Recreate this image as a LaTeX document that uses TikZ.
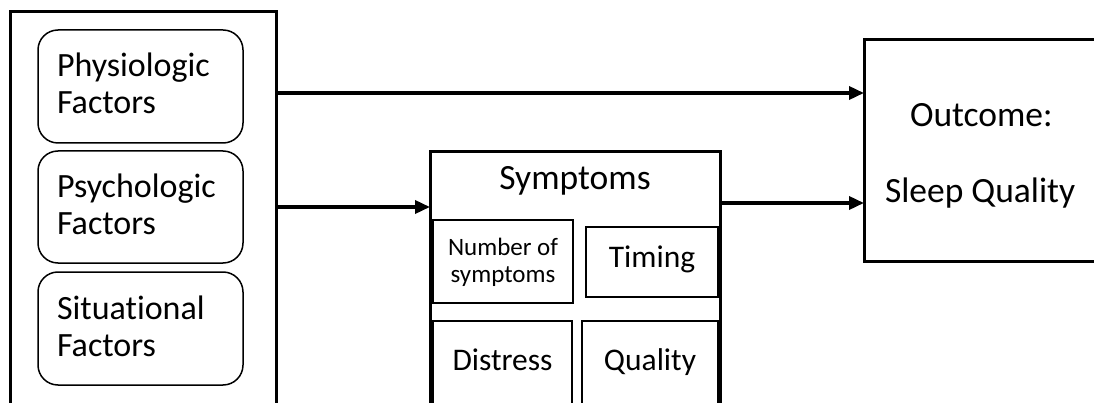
\documentclass[tikz,border=0pt]{standalone}
\usepackage{fontspec}
\setmainfont{Carlito}[Ligatures=NoCommon]
\usetikzlibrary{arrows.meta}
\tikzset{
  box/.style={draw, line width=3pt, inner sep=0pt, outer sep=0pt},
  rbox/.style={draw, line width=1.5pt, rounded corners=20pt, inner sep=0pt, outer sep=0pt},
  ibox/.style={draw, line width=2pt, inner sep=0pt, outer sep=0pt},
  lbl/.style={inner sep=0pt, outer sep=0pt, font=\fontsize{34}{37}\selectfont},
  big/.style={inner sep=0pt, outer sep=0pt, font=\fontsize{35.5}{40}\selectfont},
  mid/.style={inner sep=0pt, outer sep=0pt, font=\fontsize{31.5}{36}\selectfont},
  small/.style={inner sep=0pt, outer sep=0pt, font=\fontsize{25}{28}\selectfont},
  conn/.style={line width=3.5pt, -{Triangle[length=15pt,width=13pt]}}
}
\begin{document}
\begin{tikzpicture}[x=1pt,y=-1pt]
\useasboundingbox (0,0) rectangle (1094,403);
\fill[white] (0,0) rectangle (1094,403);
\clip (0,0) rectangle (1094,403);
% left group
\node[box, minimum width=266pt, minimum height=392pt] (factors) at (143,208) {};
\node[rbox, minimum width=205pt, minimum height=113pt] (phys) at (140.5,86.5) {};
\node[rbox, minimum width=205pt, minimum height=112pt] (psych) at (140.5,207) {};
\node[rbox, minimum width=205pt, minimum height=113pt] (sit) at (140.5,328.5) {};
\node[lbl, anchor=base west] (t1a) at (57,77) {Physiologic};
\node[lbl, anchor=base west] (t1b) at (57,114) {Factors};
\node[lbl, anchor=base west] (t2a) at (57,197.5) {Psychologic};
\node[lbl, anchor=base west] (t2b) at (57,234.5) {Factors};
\node[lbl, anchor=base west] (t3a) at (57,319) {Situational};
\node[lbl, anchor=base west] (t3b) at (57,356) {Factors};
% symptoms
\node[box, minimum width=290pt, minimum height=252pt] (symp) at (575,278) {};
\node[big, anchor=base] (tsymp) at (575,190) {Symptoms};
\node[ibox, minimum width=140pt, minimum height=83pt] (num) at (503,261.5) {};
\node[small, anchor=base] (tnum1) at (503,255) {Number of};
\node[small, anchor=base] (tnum2) at (503,282) {symptoms};
\node[ibox, minimum width=132pt, minimum height=70pt] (tim) at (652,262) {};
\node[mid, anchor=base] (ttim) at (652,268) {Timing};
\node[ibox, minimum width=139pt, minimum height=89pt] (dis) at (502.5,365.5) {};
\node[mid, anchor=base] (tdis) at (502.5,370) {Distress};
\node[ibox, minimum width=136pt, minimum height=89pt] (qual) at (650,365.5) {};
\node[mid, anchor=base] (tqual) at (650,370) {Quality};
% outcome
\node[box, minimum width=236pt, minimum height=221pt] (outc) at (982,150.5) {};
\node[big, anchor=base west] (to1) at (910,127) {Outcome:};
\node[big, anchor=base west] (to2) at (885,203) {Sleep Quality};
% connectors
\draw[conn] (factors.east |- 0,93) -- (outc.west |- 0,93);
\draw[conn] (factors.east |- 0,207) -- (symp.west |- 0,207);
\draw[conn] (symp.east |- 0,203) -- (outc.west |- 0,203);
\end{tikzpicture}
\end{document}
